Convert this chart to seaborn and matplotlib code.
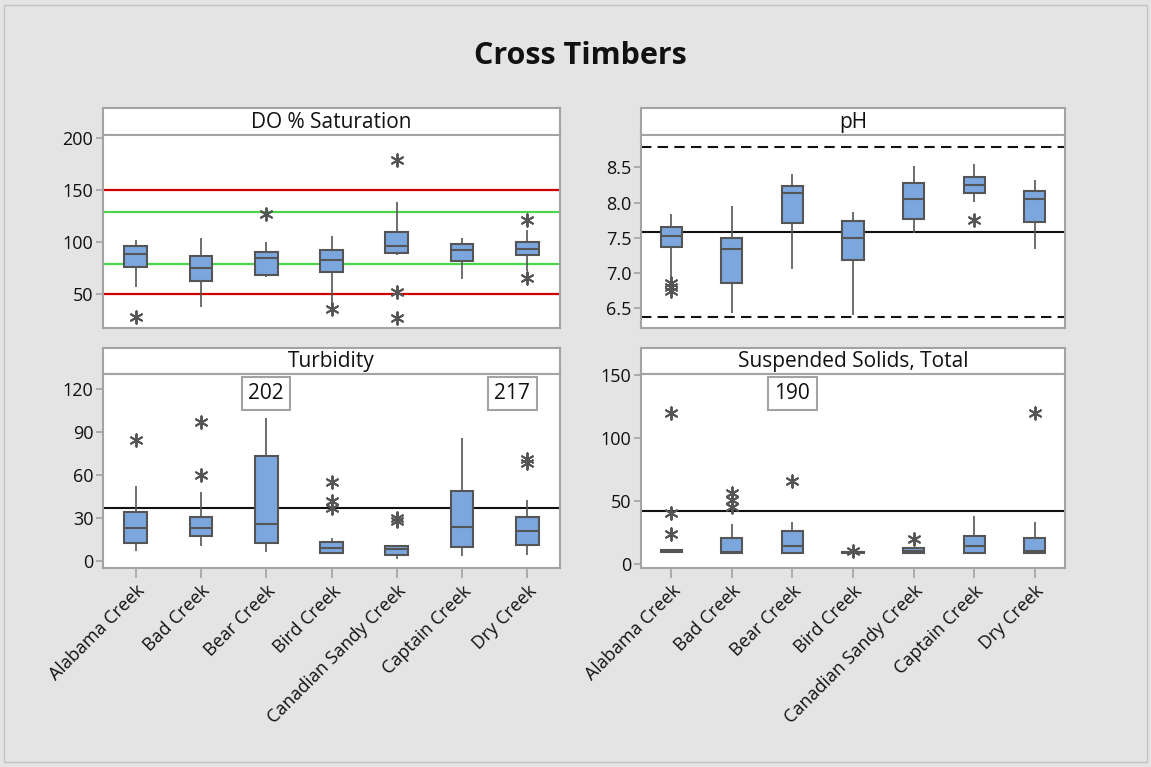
import numpy as np
import pandas as pd
import matplotlib
matplotlib.use("Agg")
import matplotlib.pyplot as plt
from matplotlib.patches import Rectangle
import seaborn as sns

# ---------------- data ----------------
creeks = ["Alabama Creek", "Bad Creek", "Bear Creek", "Bird Creek",
          "Canadian Sandy Creek", "Captain Creek", "Dry Creek"]

# DO % Saturation: whisker ends, quartiles and medians per creek
do_low = [57, 38, 67, 40, 88, 65, 72]
do_q1 = [76.5, 63, 68.7, 71, 90, 82.3, 88.1]
do_med = [88.7, 75.2, 84.5, 82.9, 96.5, 92.3, 93.9]
do_q3 = [96.8, 86.5, 90.6, 92.3, 109.7, 98.4, 100.3]
do_high = [102.6, 104.5, 100.3, 106.1, 138.7, 104.2, 112.3]
do_outliers = [[28], [], [126.8], [35.8], [179.4, 52, 26.8], [], [121.6, 65.5]]
do_limits_red = [50, 150]
do_limits_green = [79, 129]

# pH
ph_low = [6.95, 6.43, 7.06, 6.40, 7.575, 8.01, 7.34]
ph_q1 = [7.373, 6.858, 7.717, 7.18, 7.774, 8.137, 7.72]
ph_med = [7.524, 7.344, 8.14, 7.495, 8.052, 8.25, 8.052]
ph_q3 = [7.656, 7.495, 8.231, 7.745, 8.278, 8.368, 8.17]
ph_high = [7.835, 7.95, 8.40, 7.863, 8.514, 8.542, 8.316]
ph_outliers = [[6.86, 6.80, 6.74], [], [], [], [], [7.75], []]
ph_limits = [6.37, 8.79]
ph_mean = 7.58

# Turbidity
tu_low = [7.2, 10.3, 6.1, 4.7, 1.6, 3.7, 4.0]
tu_q1 = [12.6, 17.2, 12.8, 5.8, 4.2, 9.8, 11.2]
tu_med = [23.1, 23.1, 25.6, 9.1, 8.2, 24.0, 21.2]
tu_q3 = [34.0, 31.0, 73.2, 13.0, 10.3, 49.2, 31.0]
tu_high = [52.2, 48.2, 100.0, 15.8, 10.3, 85.7, 42.6]
tu_outliers = [[84.6], [96.9, 60.1], [202], [55, 41.9, 36.8], [29.8, 28],
               [], [71, 68.3, 217]]
tu_mean = 37

# Suspended Solids, Total
ss_low = [10.0, 9.2, 9.2, 9.0, 9.2, 9.2, 9.2]
ss_q1 = [10.0, 9.2, 9.2, 9.0, 9.2, 9.2, 9.2]
ss_med = [10.5, 9.5, 14.3, 9.5, 10.8, 14.3, 10.8]
ss_q3 = [11.2, 20.6, 26.7, 10.0, 12.7, 22.2, 20.6]
ss_high = [11.2, 31.7, 33.3, 10.0, 12.7, 38.3, 33.3]
ss_outliers = [[120.2, 40.9, 23.8], [56.3, 51, 45.7], [66, 190], [10.8],
               [19.8], [], [120.2]]
ss_mean = 42


def long_form(low, q1, med, q3, high):
    rows = []
    for c, vals in zip(creeks, zip(low, q1, med, q3, high)):
        for v in vals:
            rows.append((c, v))
    return pd.DataFrame(rows, columns=["Creek", "Value"])


def outlier_frame(outliers):
    rows = [(c, v) for c, vs in zip(creeks, outliers) for v in vs]
    return pd.DataFrame(rows, columns=["Creek", "Value"])


# ---------------- style ----------------
sns.set_theme(style="white")
plt.rcParams["font.family"] = ["Open Sans", "DejaVu Sans"]

W, H = 1151, 767
BG = "#E4E4E4"
FRAME = "#A3A3A3"
BOX = "#7BA7DE"
LINE = "#555555"
TXT = "#111111"

fig = plt.figure(figsize=(W / 100, H / 100), dpi=100, facecolor=BG)
fig.patches.append(Rectangle((4 / W, 1 - 762 / H), 1143 / W, 757 / H,
                             transform=fig.transFigure, fill=False,
                             edgecolor="#C4C4C4", linewidth=1.0))
fig.text(580 / W, 1 - 56 / H, "Cross Timbers", ha="center", va="center",
         fontsize=22, fontweight="bold", color=TXT)


def px_axes(x0, y0, x1, y1):
    return fig.add_axes([x0 / W, 1 - y1 / H, (x1 - x0) / W, (y1 - y0) / H])


def panel(x0, x1, strip_top, plot_top, plot_bottom, title, df, out, ylim,
          yticks, yfmt, bottom_row):
    strip = px_axes(x0, strip_top, x1, plot_top)
    strip.set_xticks([]); strip.set_yticks([])
    strip.set_facecolor("white")
    for s in strip.spines.values():
        s.set_color(FRAME); s.set_linewidth(1.5)
    strip.text(0.5, 0.48, title, ha="center", va="center", fontsize=15,
               transform=strip.transAxes, color=TXT)

    ax = px_axes(x0, plot_top, x1, plot_bottom)
    ax.set_facecolor("white")
    sns.boxplot(data=df, x="Creek", y="Value", order=creeks, ax=ax,
                width=0.35, color=BOX, saturation=1, linecolor=LINE,
                linewidth=1.5, whis=(0, 100), showfliers=False,
                showcaps=False, whiskerprops=dict(linewidth=1.2))
    if len(out):
        sns.stripplot(data=out, x="Creek", y="Value", order=creeks, ax=ax,
                      jitter=False, marker=(6, 2, 0), s=9, color=LINE,
                      edgecolor=LINE, linewidth=1.4, zorder=5)
    ax.set_xlim(-0.5, 6.5)
    ax.set_ylim(*ylim)
    ax.set_yticks(yticks)
    ax.set_yticklabels([yfmt.format(t) for t in yticks], fontsize=13,
                       color=TXT)
    ax.set_xlabel(""); ax.set_ylabel("")
    for s in ax.spines.values():
        s.set_color(FRAME); s.set_linewidth(1.5)
    ax.tick_params(axis="y", direction="out", length=5, width=1.2,
                   color=FRAME, pad=2, left=True)
    if bottom_row:
        ax.tick_params(axis="x", direction="out", length=7, width=1.2,
                       color=FRAME, bottom=True, pad=3)
        ax.set_xticks(range(len(creeks)))
        ax.set_xticklabels(creeks, rotation=45, ha="right", va="top",
                           rotation_mode="anchor", fontsize=13, color=TXT)
    else:
        ax.set_xticks([])
    return ax


# DO % Saturation
ax1 = panel(103, 560, 108, 135, 328, "DO % Saturation",
            long_form(do_low, do_q1, do_med, do_q3, do_high),
            outlier_frame(do_outliers), (17.6, 203.2), [50, 100, 150, 200],
            "{:.0f}", False)
for v in do_limits_red:
    ax1.axhline(v, color="#D40000", linewidth=1.6, zorder=1)
for v in do_limits_green:
    ax1.axhline(v, color="#4CD44C", linewidth=1.6, zorder=1)

# pH
ax2 = panel(641, 1065, 108, 135, 328, "pH",
            long_form(ph_low, ph_q1, ph_med, ph_q3, ph_high),
            outlier_frame(ph_outliers), (6.22, 8.96),
            [6.5, 7.0, 7.5, 8.0, 8.5], "{:.1f}", False)
for v in ph_limits:
    ax2.axhline(v, color=TXT, linewidth=1.5, linestyle=(0, (5, 3)),
                zorder=1)
ax2.axhline(ph_mean, color=TXT, linewidth=1.5, zorder=1)

# Turbidity
ax3 = panel(103, 560, 348, 374, 568, "Turbidity",
            long_form(tu_low, tu_q1, tu_med, tu_q3, tu_high),
            outlier_frame(tu_outliers), (-4.9, 130.7),
            [0, 30, 60, 90, 120], "{:.0f}", True)
ax3.axhline(tu_mean, color=TXT, linewidth=1.5, zorder=1)

# Suspended Solids, Total
ax4 = panel(641, 1065, 348, 374, 568, "Suspended Solids, Total",
            long_form(ss_low, ss_q1, ss_med, ss_q3, ss_high),
            outlier_frame(ss_outliers), (-2.9, 150.8),
            [0, 50, 100, 150], "{:.0f}", True)
ax4.axhline(ss_mean, color=TXT, linewidth=1.5, zorder=1)


# Values beyond the plotted range are reported in boxed labels
def offscale_labels(ax, outliers, shifts):
    lo, top = ax.get_ylim()
    for i, vs in enumerate(outliers):
        for v in vs:
            if v > top:
                ax.text(i + shifts.get(i, 0.0), top - 0.1 * (top - lo),
                        f"{v:g}", ha="center", va="center", fontsize=15,
                        color=TXT, zorder=6,
                        bbox=dict(boxstyle="square,pad=0.3", fc="white",
                                  ec=FRAME, lw=1.5))


offscale_labels(ax3, tu_outliers, {6: -0.23})
offscale_labels(ax4, ss_outliers, {})

fig.savefig("out.png", dpi=100, facecolor=BG)
